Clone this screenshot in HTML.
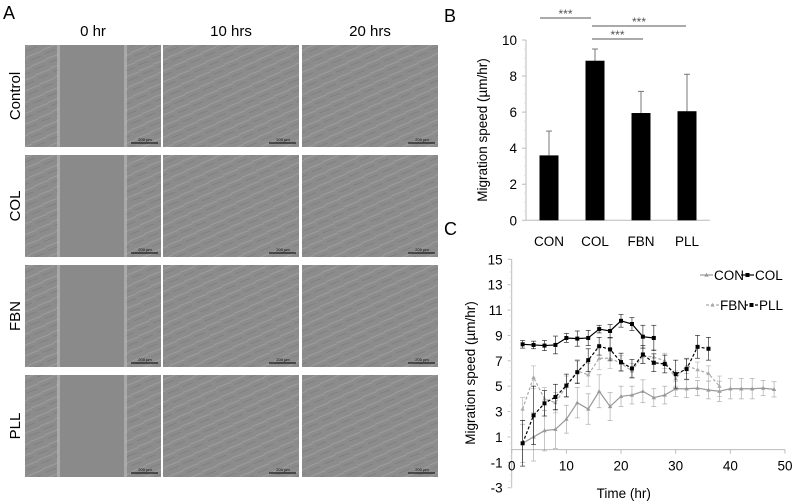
<!DOCTYPE html>
<html><head><meta charset="utf-8"><style>
body{margin:0;background:#fff;}
svg{display:block;font-family:"Liberation Sans",Arial,sans-serif;}
</style></head><body>
<svg id="fig" width="795" height="502" viewBox="0 0 795 502">
<defs>
<pattern id="cells" width="16" height="10" patternUnits="userSpaceOnUse" patternTransform="rotate(-25)">
<rect width="16" height="10" fill="#8c8c8c"/><path d="M0 3 L16 4" stroke="#9e9e9e" stroke-width="1"/><path d="M2 7.5 L13 8" stroke="#7c7c7c" stroke-width="0.8"/>
</pattern>
</defs>
<g id="panelA"></g>
<g id="panelB"></g>
<g id="panelC"></g>
</svg>
<script>
// ---------- Bar chart data ----------
const barCategories = ["CON","COL","FBN","PLL"];
const barValues = [3.6, 8.85, 5.95, 6.05];
const barErrors = [1.35, 0.65, 1.2, 2.05];
const barTicks = [0,2,4,6,8,10];
// ---------- Line chart data ----------
const conTimes = [2,4,6,8,10,12,14,16,18,20,22,24,26,28,30,32,34,36,38,40,42,44,46,48];
const conValues = [0.5,1.0,1.5,1.6,2.4,3.7,3.2,4.6,3.4,4.2,4.3,4.6,4.1,4.3,4.8,4.8,4.85,4.7,4.6,4.8,4.8,4.8,4.85,4.75];
const conErrors = [1.5,1.9,1.6,1.5,1.1,1.2,1.2,1.3,1.1,0.8,0.7,0.9,0.7,0.7,0.6,0.7,0.6,0.7,0.8,0.8,0.8,0.8,0.6,0.6];
const colTimes = [2,4,6,8,10,12,14,16,18,20,22,24,26];
const colValues = [8.3,8.25,8.2,8.25,8.8,8.75,8.8,9.5,9.35,10.15,9.9,8.9,8.8];
const colErrors = [0.3,0.3,0.4,0.7,0.35,0.6,0.6,0.3,0.5,0.5,0.5,0.9,1.0];
const fbnTimes = [2,4,6,8,10,12,14,16,18,20,22,24,26,28,30,32,34,36,38];
const fbnValues = [3.2,5.7,4.0,3.7,5.0,6.2,5.9,7.2,7.2,6.8,6.2,7.4,7.3,7.0,5.6,6.6,6.3,6.0,5.0];
const fbnErrors = [0.9,0.9,0.9,0.8,0.8,0.9,0.9,0.9,0.8,0.6,0.6,0.6,0.6,0.6,0.6,0.6,0.6,0.6,0.8];
const pllTimes = [2,4,6,8,10,12,14,16,18,20,22,24,26,28,30,32,34,36];
const pllValues = [0.5,2.7,3.65,4.15,5.05,6.1,7.05,8.15,7.9,6.9,6.4,7.5,6.85,6.75,5.95,6.35,8.1,7.95];
const pllErrors = [1.8,2.3,1.0,1.0,0.9,0.9,0.9,0.7,0.9,0.7,0.7,0.7,0.7,0.7,1.1,0.8,0.9,0.9];
const lineYTicks = [-3,-1,1,3,5,7,9,11,13,15];
const lineXTicks = [0,10,20,30,40,50];

const NS="http://www.w3.org/2000/svg";
function mk(parent,tag,attrs,text){const e=document.createElementNS(NS,tag);for(const k in attrs)e.setAttribute(k,attrs[k]);if(text!==undefined)e.textContent=text;parent.appendChild(e);return e;}
const FS=13.5;

// ---------- Panel A ----------
const A=document.getElementById('panelA');
let t=mk(A,'text',{x:3,y:19,'font-size':18,fill:'#000'},'A');


const colHeads=["0 hr","10 hrs","20 hrs"];
const colX=[25,163,302], colW=136;
const rowY=[45,155,265,375], rowH=102;
const rowNames=["Control","COL","FBN","PLL"];
colHeads.forEach((h,i)=>{
  const e=mk(A,'text',{x:colX[i]+colW/2,y:36,'font-size':15,'text-anchor':'middle'},h);
  
  
});
rowNames.forEach((r,j)=>{
  const cy=rowY[j]+rowH/2;
  const e=mk(A,'text',{x:0,y:0,'font-size':15,'text-anchor':'middle',transform:`translate(20,${cy}) rotate(-90)`},r);
  
  
  colX.forEach((x,i)=>{
    const g=mk(A,'g',{});
    
    
    mk(g,'rect',{x:x,y:rowY[j],width:colW,height:rowH,fill:'url(#cells)'});
    if(i===0){mk(g,'rect',{x:x+34,y:rowY[j],width:66,height:rowH,fill:'#8a8a8a'});
      mk(g,'rect',{x:x+32,y:rowY[j],width:3,height:rowH,fill:'#bdbdbd',opacity:0.6});
      mk(g,'rect',{x:x+99,y:rowY[j],width:3,height:rowH,fill:'#bdbdbd',opacity:0.6});}
    mk(g,'line',{x1:x+colW-30,y1:rowY[j]+rowH-4,x2:x+colW-3,y2:rowY[j]+rowH-4,stroke:'#000','stroke-width':1});
    const s=mk(g,'text',{x:x+colW-16,y:rowY[j]+rowH-6,'font-size':4,'text-anchor':'middle'},'200 µm');
    
    
  });
});

// ---------- Panel B ----------
const B=document.getElementById('panelB');
const bx0=526,bx1=710,by0=220.3,by10=40;
const byS=v=>by0-(by0-by10)*v/10;
const bxS=i=>549+i*46;
t=mk(B,'text',{x:444,y:22,'font-size':18},'B');


mk(B,'line',{x1:bx0,y1:by10,x2:bx0,y2:by0,stroke:'#bbb'});
mk(B,'line',{x1:bx0,y1:by0,x2:bx1,y2:by0,stroke:'#bbb'});
barTicks.forEach(v=>{
  mk(B,'line',{x1:bx0-4,y1:byS(v),x2:bx0,y2:byS(v),stroke:'#bbb'});
  const e=mk(B,'text',{x:bx0-9,y:byS(v)+5,'font-size':FS,'text-anchor':'end'},v);
  
  
});
for(let v=0.5;v<10;v+=0.5){if(v%2)mk(B,'line',{x1:bx0-2,y1:byS(v),x2:bx0,y2:byS(v),stroke:'#ddd'});}
barCategories.forEach((c,i)=>{
  const x=bxS(i);
  mk(B,'line',{x1:x,y1:byS(barValues[i]),x2:x,y2:byS(barValues[i]+barErrors[i]),stroke:'#777'});
  mk(B,'line',{x1:x-3,y1:byS(barValues[i]+barErrors[i]),x2:x+3,y2:byS(barValues[i]+barErrors[i]),stroke:'#777'});
  const r=mk(B,'rect',{x:x-9.5,y:byS(barValues[i]),width:19,height:by0-byS(barValues[i]),fill:'#000'});
  
  
  const e=mk(B,'text',{x:x,y:246,'font-size':FS,'text-anchor':'middle'},c);
  
  
});
t=mk(B,'text',{x:0,y:0,'font-size':FS,'text-anchor':'middle',transform:`translate(487,130) rotate(-90)`},'Migration speed (µm/hr)');


[[540,591,18,16],[592,686,26,24],[592,643,39,37]].forEach(s=>{
  const g=mk(B,'g',{});
  
  
  mk(g,'line',{x1:s[0],y1:s[2],x2:s[1],y2:s[2],stroke:'#555'});
  mk(g,'text',{x:(s[0]+s[1])/2,y:s[3]+2,'font-size':12,'text-anchor':'middle',fill:'#555'},'***');
});

// ---------- Panel C ----------
const C=document.getElementById('panelC');
const cx0=511.7,cxR=785,cyTop=259.3,cyBot=487.7;
const xS=v=>cx0+(cxR-cx0)*v/50;
const yS=v=>cyTop+(cyBot-cyTop)*(15-v)/18;
t=mk(C,'text',{x:444,y:235,'font-size':18},'C');


mk(C,'line',{x1:cx0,y1:yS(15),x2:cx0,y2:yS(-3),stroke:'#bbb'});
mk(C,'line',{x1:cx0,y1:yS(0),x2:xS(50),y2:yS(0),stroke:'#bbb'});
lineYTicks.forEach(v=>{
  mk(C,'line',{x1:cx0-4,y1:yS(v),x2:cx0,y2:yS(v),stroke:'#bbb'});
  const e=mk(C,'text',{x:cx0-9,y:yS(v)+5,'font-size':FS,'text-anchor':'end'},v);
  
  
});
for(let v=-3;v<15;v+=0.5){mk(C,'line',{x1:cx0-2,y1:yS(v),x2:cx0,y2:yS(v),stroke:'#e0e0e0'});}
lineXTicks.forEach(v=>{
  mk(C,'line',{x1:xS(v),y1:yS(0),x2:xS(v),y2:yS(0)+4,stroke:'#bbb'});
  const e=mk(C,'text',{x:xS(v),y:yS(0)+21,'font-size':FS,'text-anchor':'middle'},v);
  
  
});
t=mk(C,'text',{x:0,y:0,'font-size':FS,'text-anchor':'middle',transform:`translate(475,373) rotate(-90)`},'Migration speed (µm/hr)');


t=mk(C,'text',{x:xS(20.5),y:498,'font-size':FS,'text-anchor':'middle'},'Time (hr)');



function series(name,times,vals,errs,color,dash,marker){
  const g=mk(C,'g',{});
  
  
  times.forEach((tm,i)=>{
    const x=xS(tm);
    mk(g,'line',{x1:x,y1:yS(vals[i]-errs[i]),x2:x,y2:yS(vals[i]+errs[i]),stroke:color,'stroke-width':0.7,opacity:0.8});
    mk(g,'line',{x1:x-2.5,y1:yS(vals[i]-errs[i]),x2:x+2.5,y2:yS(vals[i]-errs[i]),stroke:color,'stroke-width':0.7,opacity:0.8});
    mk(g,'line',{x1:x-2.5,y1:yS(vals[i]+errs[i]),x2:x+2.5,y2:yS(vals[i]+errs[i]),stroke:color,'stroke-width':0.7,opacity:0.8});
  });
  const pts=times.map((tm,i)=>xS(tm)+','+yS(vals[i])).join(' ');
  const pl=mk(g,'polyline',{points:pts,fill:'none',stroke:color,'stroke-width':1.2,'stroke-dasharray':dash||'none'});
  
  
  times.forEach((tm,i)=>{
    const x=xS(tm),y=yS(vals[i]);
    let p;
    if(marker==='sq') p=mk(g,'rect',{x:x-2,y:y-2,width:4,height:4,fill:color});
    else p=mk(g,'path',{d:`M${x} ${y-2.2} L${x+2.2} ${y+1.6} L${x-2.2} ${y+1.6}Z`,fill:color});
    
    
  });
}
series('con',conTimes,conValues,conErrors,'#999','', 'tri');
series('fbn',fbnTimes,fbnValues,fbnErrors,'#aaa','3,2','tri');
series('pll',pllTimes,pllValues,pllErrors,'#000','3,2','sq');
series('col',colTimes,colValues,colErrors,'#000','', 'sq');

function legend(x,y,label,color,dash,marker){
  const g=mk(C,'g',{});
  
  
  mk(g,'line',{x1:x,y1:y,x2:x+13,y2:y,stroke:color,'stroke-width':1.2,'stroke-dasharray':dash||'none'});
  if(marker==='sq') mk(g,'rect',{x:x+4.5,y:y-2,width:4,height:4,fill:color});
  else mk(g,'path',{d:`M${x+6.5} ${y-2.2} L${x+8.7} ${y+1.6} L${x+4.3} ${y+1.6}Z`,fill:color});
  mk(g,'text',{x:x+14,y:y+5,'font-size':FS,fill:'#000'},label);
}
legend(700,275,'CON','#999','','tri');
legend(741,275,'COL','#000','','sq');
legend(706,305,'FBN','#aaa','3,2','tri');
legend(745,305,'PLL','#000','3,2','sq');
</script>
</body></html>
